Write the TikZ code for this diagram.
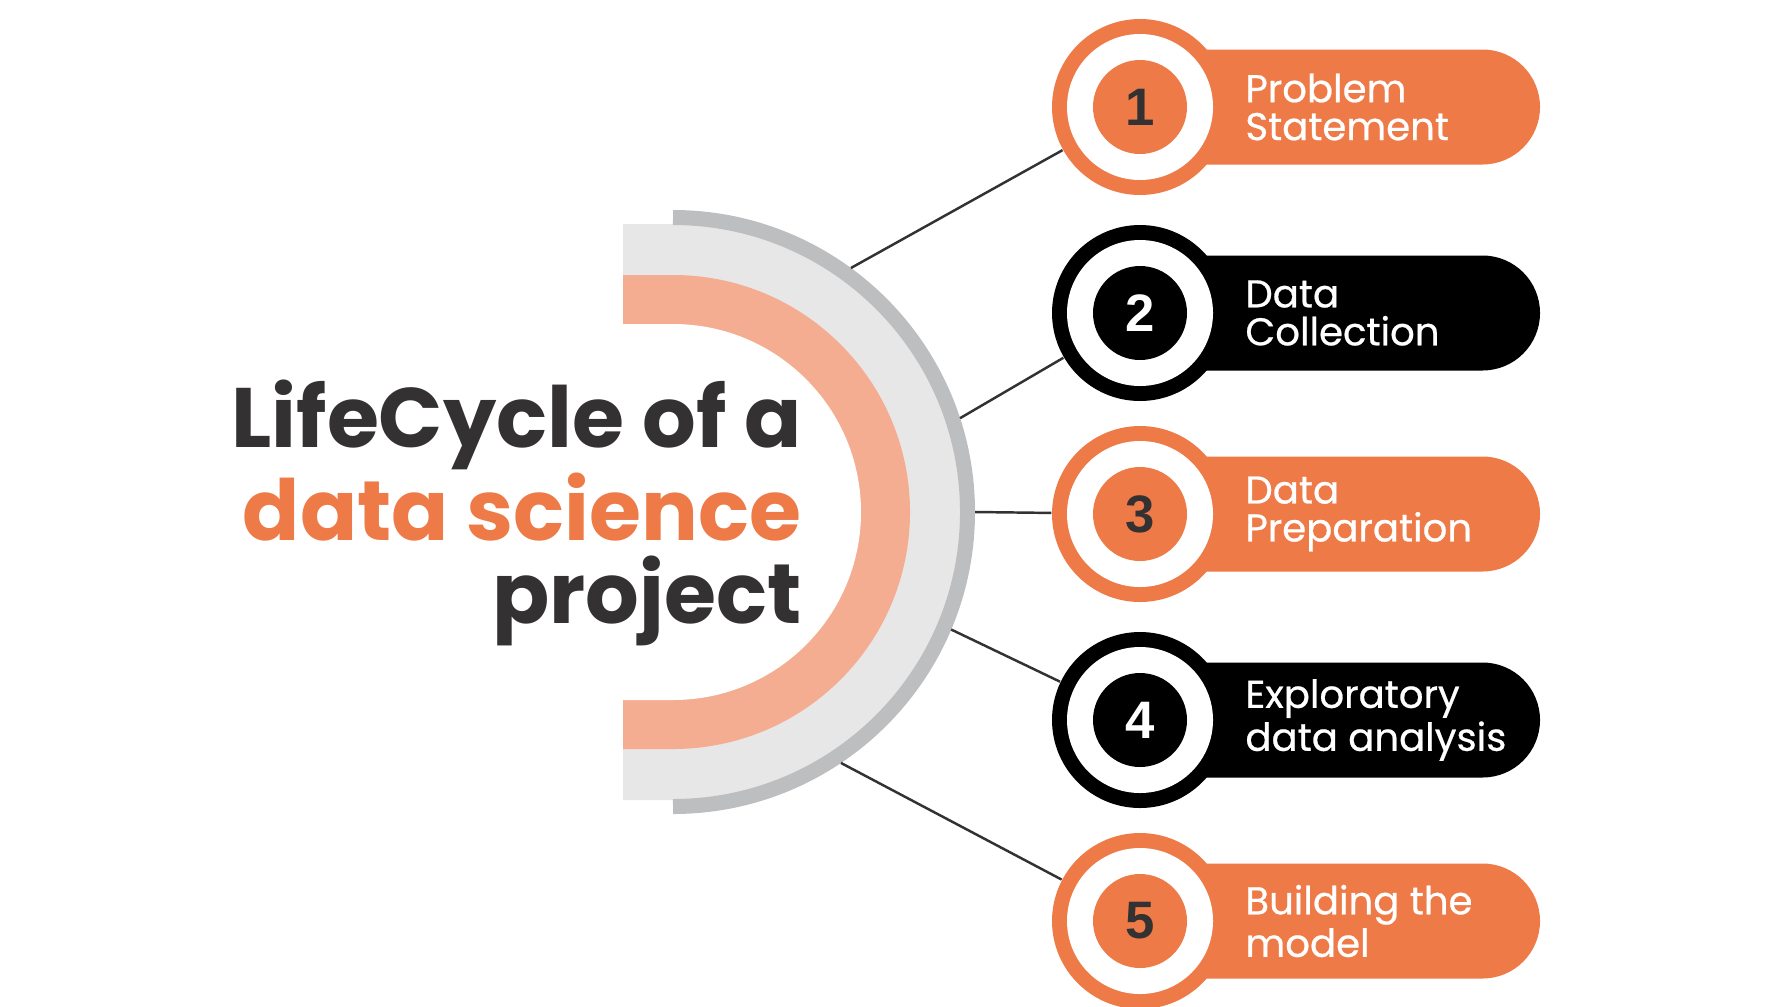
\documentclass[tikz,border=0pt]{standalone}
\usepackage{fontspec}
\setmainfont{Poppins}
\newfontfamily\numfont{Liberation Sans}
\newfontfamily\pillfont[FakeBold=0.6]{Poppins}
\usepackage{tikz}
\usetikzlibrary{positioning}

\definecolor{brandorange}{RGB}{238,122,71}
\definecolor{salmon}{RGB}{244,173,145}
\definecolor{bandgray}{RGB}{231,231,232}
\definecolor{arcgray}{RGB}{189,190,192}
\definecolor{inkdark}{RGB}{51,49,50}

\begin{document}
\begin{tikzpicture}[
        ring/.style={circle,minimum size=1.76cm,inner sep=0pt},
        hole/.style={circle,fill=white,minimum size=1.46cm,inner sep=0pt},
        badge/.style={circle,minimum size=0.94cm,inner sep=0pt,font=\numfont\bfseries\fontsize{15}{15}\selectfont},
        pill/.style={rounded corners=0.575cm},
        phase/.style={anchor=west,align=left,text=white,font=\pillfont\fontsize{11}{10.8}\selectfont},
        link/.style={inkdark,line width=0.7pt}]
        \useasboundingbox (0,0) rectangle (17.73,10.06);
        \coordinate (hub) at (6.73,4.94);
        % half rings
        \fill[bandgray] (6.23,7.82) -- (6.73,7.82) arc (90:-90:2.88) -- (6.23,2.06) -- cycle;
        \fill[salmon] (6.23,7.31) -- (6.73,7.31) arc (90:-90:2.37) -- (6.23,2.57) -- cycle;
        \fill[white] (6.23,6.82) -- (6.73,6.82) arc (90:-90:1.88) -- (6.23,3.06) -- cycle;
        \draw[arcgray,line width=0.15cm] (6.73,7.885) arc (90:-90:2.945);
        \node[anchor=east,align=right,text=inkdark,font=\bfseries\fontsize{24}{23.6}\selectfont] (title) at (8.14,4.93)
            {LifeCycle of a\\ \textcolor{brandorange}{data science}\\ project};
        % points on the outer arc
        \coordinate (a1) at ([shift={(53.9:3.02)}]hub);
        \coordinate (a2) at ([shift={(18.1:3.02)}]hub);
        \coordinate (a3) at ([shift={(0:3.02)}]hub);
        \coordinate (a4) at ([shift={(-22.9:3.02)}]hub);
        \coordinate (a5) at ([shift={(-56.2:3.02)}]hub);
        % pills
        \fill[brandorange,pill] (11.40,8.415) rectangle (15.40,9.565);
        \fill[black,pill] (11.40,6.355) rectangle (15.40,7.505);
        \fill[brandorange,pill] (11.40,4.345) rectangle (15.40,5.495);
        \fill[black,pill] (11.40,2.285) rectangle (15.40,3.435);
        \fill[brandorange,pill] (11.40,0.275) rectangle (15.40,1.425);
        % rings with numbers
        \node[ring,fill=brandorange] (r1) at (11.40,8.99) {};
        \node[hole] at (r1) {};
        \node[badge,fill=brandorange,text=inkdark] (b1) at (r1) {1};
        \node[ring,fill=black] (r2) at (11.40,6.93) {};
        \node[hole] at (r2) {};
        \node[badge,fill=black,text=white] (b2) at (r2) {2};
        \node[ring,fill=brandorange] (r3) at (11.40,4.92) {};
        \node[hole] at (r3) {};
        \node[badge,fill=brandorange,text=inkdark] (b3) at (r3) {3};
        \node[ring,fill=black] (r4) at (11.40,2.86) {};
        \node[hole] at (r4) {};
        \node[badge,fill=black,text=white] (b4) at (r4) {4};
        \node[ring,fill=brandorange] (r5) at (11.40,0.85) {};
        \node[hole] at (r5) {};
        \node[badge,fill=brandorange,text=inkdark] (b5) at (r5) {5};
        % labels
        \node[phase] (t1) at (12.33,8.99) {Problem\\Statement};
        \node[phase] (t2) at (12.33,6.93) {Data\\Collection};
        \node[phase] (t3) at (12.33,4.92) {Data\\Preparation};
        \node[phase] (t4) at (12.33,2.86) {Exploratory\\data analysis};
        \node[phase] (t5) at (12.33,0.85) {Building the\\model};
        % connectors
        \draw[link] (a1) -- (r1);
        \draw[link] (a2) -- (r2);
        \draw[link] (a3) -- (r3);
        \draw[link] (a4) -- (r4);
        \draw[link] (a5) -- (r5);
    \end{tikzpicture}
\end{document}
